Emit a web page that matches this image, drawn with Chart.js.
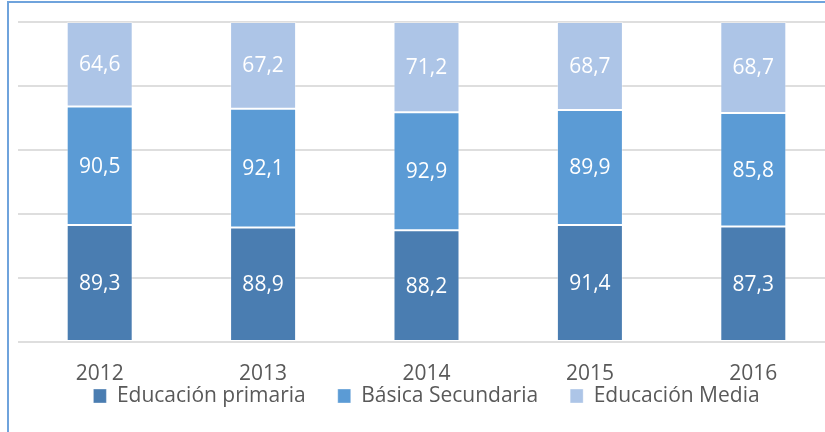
<!DOCTYPE html>
<html>
<head>
<meta charset="utf-8">
<script src="https://cdn.jsdelivr.net/npm/chart.js@4/dist/chart.umd.min.js"></script>
<style>
  html, body { margin: 0; padding: 0; width: 825px; height: 432px; overflow: hidden; background: #fff; }
  #frame { position: absolute; left: 7px; top: 1px; width: 900px; height: 500px;
           border-left: 2px solid #6fa3dc; border-top: 2px solid #6fa3dc; }
  #wrap { position: absolute; left: 0; top: 0; width: 845px; height: 451px; }
</style>
</head>
<body>
<div id="frame"></div>
<div id="wrap"><canvas id="c" width="845" height="451"></canvas></div>
<script>
const categories = ['2012', '2013', '2014', '2015', '2016'];
const seriesNames = ['Educación primaria', 'Básica Secundaria', 'Educación Media'];
const primaria   = [89.3, 88.9, 88.2, 91.4, 87.3];
const secundaria = [90.5, 92.1, 92.9, 89.9, 85.8];
const media      = [64.6, 67.2, 71.2, 68.7, 68.7];
const colors = ['#4a7db1', '#5b9bd5', '#adc5e7'];

const raw = [primaria, secundaria, media];
const totals = categories.map((_, i) => raw.reduce((s, arr) => s + arr[i], 0));
const pct = raw.map(arr => arr.map((v, i) => v / totals[i] * 100));

const fontFamily = '"Open Sans", "Liberation Sans", sans-serif';

const labelPlugin = {
  id: 'segLabels',
  afterDatasetsDraw(chart) {
    const ctx = chart.ctx;
    ctx.save();
    ctx.font = '21px ' + fontFamily;
    ctx.fillStyle = '#ffffff';
    ctx.textAlign = 'center';
    ctx.textBaseline = 'middle';
    chart.data.datasets.forEach((ds, di) => {
      const meta = chart.getDatasetMeta(di);
      meta.data.forEach((el, i) => {
        const v = ds.rawValues[i];
        const y = (el.y + el.base) / 2 + 1;
        ctx.fillText(v.toFixed(1).replace('.', ','), el.x, y);
      });
    });
    ctx.restore();
  }
};

const legendShift = {
  id: 'legendShift',
  afterLayout(chart) {
    const lg = chart.legend;
    if (!lg) return;
    const h = lg.bottom - lg.top;
    lg.top = 353.5;
    lg.bottom = lg.top + h;
  }
};

new Chart(document.getElementById('c'), {
  type: 'bar',
  data: {
    labels: categories,
    datasets: seriesNames.map((name, k) => ({
      label: name,
      data: pct[k],
      rawValues: raw[k],
      backgroundColor: colors[k],
      borderColor: 'rgba(255,255,255,0.35)',
      borderWidth: 1,
      borderSkipped: false,
      categoryPercentage: 1,
      barPercentage: 0.404
    }))
  },
  options: {
    responsive: false,
    animation: false,
    layout: { padding: { left: 18, right: 10, top: 22, bottom: 0 } },
    plugins: {
      legend: {
        position: 'bottom',
        labels: {
          font: { family: fontFamily, size: 21 },
          color: '#595959',
          boxWidth: 13,
          boxHeight: 14,
          padding: 32
        }
      },
      tooltip: { enabled: false },
      title: { display: false }
    },
    scales: {
      x: {
        stacked: true,
        grid: { display: false, drawTicks: false },
        border: { display: false },
        ticks: { font: { family: fontFamily, size: 21 }, color: '#595959', padding: 19 },
        afterFit(scale) { scale.height = 46; }
      },
      y: {
        stacked: true,
        min: 0, max: 100,
        ticks: { display: false, stepSize: 20 },
        grid: { color: '#dedede', lineWidth: 2, drawTicks: false },
        border: { display: false }
      }
    }
  },
  plugins: [labelPlugin, legendShift]
});
</script>
</body>
</html>
